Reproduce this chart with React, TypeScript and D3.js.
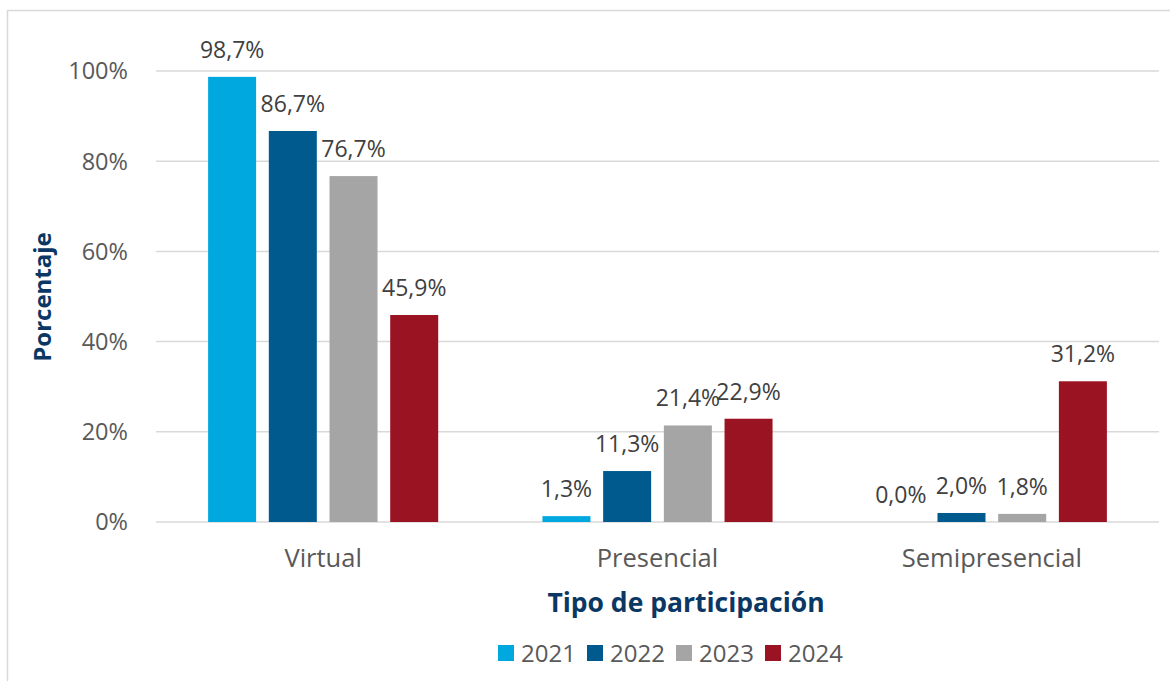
import React from "react";
import * as d3 from "d3";

// Participation type by year (share of participants, %)
const categories = ["Virtual", "Presencial", "Semipresencial"];
const years = ["2021", "2022", "2023", "2024"];
const values2021 = [98.7, 1.3, 0.0];
const values2022 = [86.7, 11.3, 2.0];
const values2023 = [76.7, 21.4, 1.8];
const values2024 = [45.9, 22.9, 31.2];
const yTicks = [0, 20, 40, 60, 80, 100];

const seriesValues = [values2021, values2022, values2023, values2024];
const colors = ["#00A8E0", "#005A8E", "#A5A5A5", "#9A1322"];

const W = 1170;
const H = 681;
const plot = { left: 156, right: 1159, top: 71, bottom: 522 };
const FONT = "'Open Sans', 'Liberation Sans', sans-serif";

const fmt = (v: number) => v.toFixed(1).replace(".", ",") + "%";

export default function App() {
  const x0 = d3
    .scaleBand<string>()
    .domain(categories)
    .range([plot.left, plot.right])
    .paddingInner(0)
    .paddingOuter(0);
  const y = d3.scaleLinear().domain([0, 100]).range([plot.bottom, plot.top]);

  const barW = 48;
  const step = 60.7;

  return (
    <svg
      width={W}
      height={H}
      style={{ position: "absolute", left: 0, top: 0, background: "#fff" }}
      fontFamily={FONT}
    >
      <rect x={0} y={0} width={W} height={H} fill="#fff" />
      {/* chart area frame */}
      <rect x={7.5} y={10.5} width={W + 20} height={H + 20} fill="none" stroke="#D9D9D9" strokeWidth={1.5} />

      {/* gridlines and y tick labels */}
      {yTicks.map((t) => (
        <g key={t}>
          <line
            x1={plot.left}
            x2={plot.right}
            y1={y(t)}
            y2={y(t)}
            stroke="#D9D9D9"
            strokeWidth={1.5}
          />
          <text
            x={128}
            y={y(t)}
            dy="0.36em"
            textAnchor="end"
            fontSize={23.5}
            fill="#595959"
          >
            {t}%
          </text>
        </g>
      ))}

      {/* bars and value labels */}
      {categories.map((c, ci) => {
        const cx = (x0(c) as number) + x0.bandwidth() / 2;
        return (
          <g key={c}>
            {seriesValues.map((vals, si) => {
              const v = vals[ci];
              const bx = cx + (si - 1.5) * step;
              const top = y(v);
              return (
                <g key={si}>
                  <rect
                    x={bx - barW / 2}
                    y={top}
                    width={barW}
                    height={y(0) - top}
                    fill={colors[si]}
                  />
                  <text
                    x={bx}
                    y={top - 19}
                    textAnchor="middle"
                    fontSize={23}
                    fill="#404040"
                  >
                    {fmt(v)}
                  </text>
                </g>
              );
            })}
            <text
              x={cx}
              y={558}
              dy="0.36em"
              textAnchor="middle"
              fontSize={25.5}
              fill="#595959"
            >
              {c}
            </text>
          </g>
        );
      })}

      {/* axis titles */}
      <text
        x={686}
        y={602}
        dy="0.36em"
        textAnchor="middle"
        fontSize={26.5}
        fontWeight="bold"
        fill="#0B3764"
      >
        Tipo de participación
      </text>
      <text
        transform="translate(42,297) rotate(-90)"
        dy="0.36em"
        textAnchor="middle"
        fontSize={24}
        fontWeight="bold"
        fill="#0B3764"
      >
        Porcentaje
      </text>

      {/* legend */}
      {years.map((yr, i) => {
        const lx = 498 + i * 89;
        return (
          <g key={yr}>
            <rect x={lx} y={645} width={16} height={16} fill={colors[i]} />
            <text x={lx + 23} y={653} dy="0.36em" fontSize={24} fill="#595959">
              {yr}
            </text>
          </g>
        );
      })}
    </svg>
  );
}
